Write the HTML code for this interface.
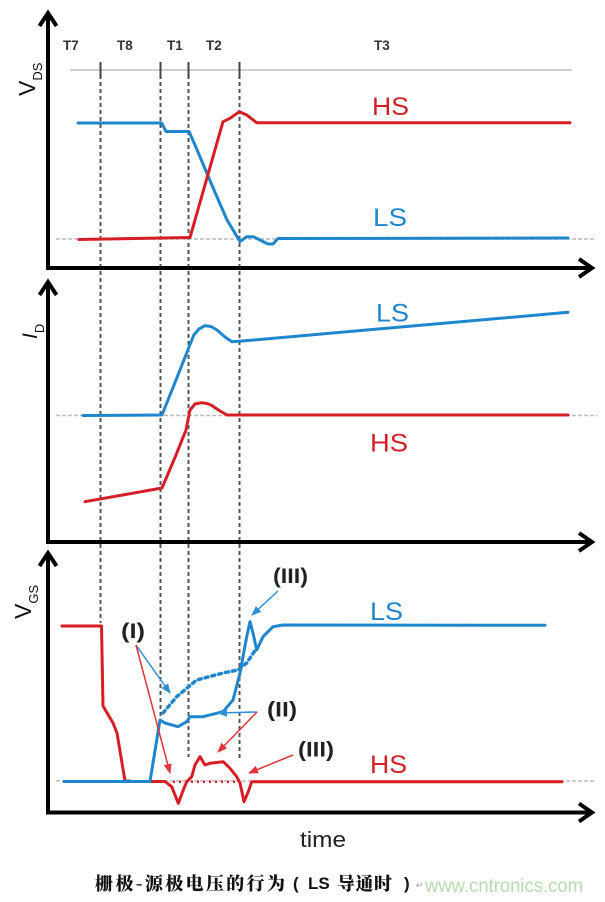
<!DOCTYPE html>
<html><head><meta charset="utf-8"><style>
html,body{margin:0;padding:0;background:#fff;}
svg{display:block;}
</style></head><body>
<svg width="605" height="902" viewBox="0 0 605 902" xmlns="http://www.w3.org/2000/svg">
<defs>
<marker id="ab" markerWidth="10" markerHeight="8" refX="9" refY="4" orient="auto" markerUnits="userSpaceOnUse"><path d="M0,0 L10,4 L0,8 Z" fill="#2a8fd4"/></marker>
<marker id="ar" markerWidth="10" markerHeight="8" refX="9" refY="4" orient="auto" markerUnits="userSpaceOnUse"><path d="M0,0 L10,4 L0,8 Z" fill="#e0353a"/></marker>
</defs>
<rect width="605" height="902" fill="#fff"/>

<!-- top grey line & ticks -->
<line x1="70" y1="70" x2="572" y2="70" stroke="#cfcfcf" stroke-width="2"/>
<g stroke="#444" stroke-width="2">
<line x1="100.5" y1="62" x2="100.5" y2="79"/>
<line x1="160.5" y1="62" x2="160.5" y2="79"/>
<line x1="188.5" y1="62" x2="188.5" y2="79"/>
<line x1="239.5" y1="62" x2="239.5" y2="79"/>
</g>
<g font-family="Liberation Sans, sans-serif" font-size="13.5" font-weight="bold" fill="#333">
<text x="63" y="50">T7</text>
<text x="117" y="50">T8</text>
<text x="167" y="50">T1</text>
<text x="206" y="50">T2</text>
<text x="374" y="50">T3</text>
</g>

<!-- dashed verticals -->
<g stroke="#555" stroke-width="2" stroke-dasharray="4 3">
<line x1="100.5" y1="82" x2="100.5" y2="623"/>
<line x1="160.5" y1="82" x2="160.5" y2="716"/>
<line x1="188.5" y1="82" x2="188.5" y2="757"/>
<line x1="239.5" y1="82" x2="239.5" y2="760"/>
</g>

<!-- grey baselines -->
<g stroke="#bbb" stroke-width="1.6" stroke-dasharray="4 2">
<line x1="56" y1="239" x2="595" y2="239"/>
<line x1="56" y1="415.5" x2="597" y2="415.5"/>
<line x1="56" y1="781" x2="595" y2="781"/>
</g>

<!-- axes -->
<g stroke="#000" stroke-width="4" fill="none" stroke-linejoin="miter">
<line x1="48" y1="14" x2="48" y2="270"/>
<line x1="46" y1="268" x2="592" y2="268"/>
<polyline points="39.5,26 48,13 56.5,26"/>
<polyline points="579,259 592,268 579,277"/>
<line x1="48" y1="283" x2="48" y2="544"/>
<line x1="46" y1="542" x2="592" y2="542"/>
<polyline points="39.5,295 48,282 56.5,295"/>
<polyline points="579,533 592,542 579,551"/>
<line x1="48" y1="554" x2="48" y2="814"/>
<line x1="46" y1="812.5" x2="592" y2="812.5"/>
<polyline points="39.5,566 48,553 56.5,566"/>
<polyline points="579,803.5 592,812.5 579,821.5"/>
</g>

<!-- axis labels -->
<g font-family="Liberation Sans, sans-serif" fill="#111">
<text transform="translate(35,96) rotate(-90)" font-size="23">V<tspan font-size="13" dy="7">DS</tspan></text>
<text transform="translate(37,339) rotate(-90)" font-size="21" font-style="italic">I<tspan font-size="13" dy="7" font-style="normal">D</tspan></text>
<text transform="translate(31,619) rotate(-90)" font-size="23">V<tspan font-size="13" dy="7">GS</tspan></text>
</g>

<!-- VDS curves -->
<g fill="none" stroke-width="3" stroke-linejoin="round" stroke-linecap="round">
<polyline stroke="#1e86cc" points="78,123 161.7,123 166,131.5 189,131.5 195,145 211,183 227,220 240,241.5 246.7,236.7 253.3,236.7 268,244 273,244 278,238.5 568,238"/>
<polyline stroke="#d61e25" points="79,239.5 190,237.5 223,121.7 230,118.3 239.3,111.7 246.7,115 256.7,122.7 570,122.7"/>

<!-- ID curves -->
<polyline stroke="#1e86cc" points="83,415.5 162,415 178,375 193.8,335 199,329 205,325.7 211,326.5 217,330 225,337 232,341.7 242,341 568,312.3"/>
<polyline stroke="#d61e25" points="85,501.7 162,488 176,455 186,430 190,410 195,404 201.5,402.7 207,403.5 211,405 220,411 227,415 568,415"/>

<!-- VGS curves -->
<polyline stroke="#d61e25" points="62,626 101.5,626 103,706 113,723 117,733 125,781 130,781"/>
<polyline stroke="#d61e25" points="150,781.5 165,781.5 171.7,786.7 178.3,803.3 183.3,790 186.7,781.7 191.7,776.7 195,765 200,756.7 205,765 210,763.3 223.3,761.7 230,768.3 236.7,776.7 240,783 244,801.7 248.3,791.7 251.7,781.7 562,781.7"/>
<polyline stroke="#1e86cc" points="64,781.5 150,781.5 160,720 165,723 178,726.7 186.7,721.7 190,716.7 203,716.7 223,711.7 233,700 240,673 246.7,636.7 250,621.7 253,633 256.7,650 263,636.7 273,626.7 283,625 545,625.3"/>
</g>
<polyline fill="none" stroke="#d61e25" stroke-width="2.5" stroke-dasharray="2 4" points="173,781.7 240,781.7"/>
<polyline fill="none" stroke="#1e86cc" stroke-width="3.5" stroke-dasharray="3 4" stroke-linecap="round" points="163,713 176.7,696.7 196.7,680 223,673 238,670 246.7,663 256.7,648"/>

<!-- series labels -->
<g font-family="Liberation Sans, sans-serif" font-size="25">
<text x="372" y="115" fill="#d61e25" textLength="37" lengthAdjust="spacingAndGlyphs">HS</text>
<text x="373" y="226" fill="#1e86cc" textLength="34" lengthAdjust="spacingAndGlyphs">LS</text>
<text x="376" y="321.5" fill="#1e86cc" textLength="33" lengthAdjust="spacingAndGlyphs">LS</text>
<text x="370" y="451.5" fill="#d61e25" textLength="38" lengthAdjust="spacingAndGlyphs">HS</text>
<text x="370" y="620" fill="#1e86cc" textLength="33" lengthAdjust="spacingAndGlyphs">LS</text>
<text x="370" y="773" fill="#d61e25" textLength="37" lengthAdjust="spacingAndGlyphs">HS</text>
</g>

<!-- annotations -->
<g font-family="Liberation Sans, sans-serif" font-size="21" font-weight="bold" fill="#222">
<text x="121" y="638" textLength="24" lengthAdjust="spacingAndGlyphs">(I)</text>
<text x="267" y="716.5" textLength="30" lengthAdjust="spacingAndGlyphs">(II)</text>
<text x="273" y="583" textLength="35" lengthAdjust="spacingAndGlyphs">(III)</text>
<text x="298" y="756.5" textLength="36" lengthAdjust="spacingAndGlyphs">(III)</text>
</g>
<g stroke-width="1.5" fill="none">
<line x1="136" y1="645" x2="170" y2="693" stroke="#2a8fd4" marker-end="url(#ab)"/>
<line x1="136" y1="645" x2="170" y2="773" stroke="#e0353a" marker-end="url(#ar)"/>
<line x1="257" y1="712" x2="218" y2="713" stroke="#2a8fd4" marker-end="url(#ab)"/>
<line x1="257" y1="712" x2="218" y2="752" stroke="#e0353a" marker-end="url(#ar)"/>
<line x1="278" y1="591" x2="252" y2="615" stroke="#2a8fd4" marker-end="url(#ab)"/>
<line x1="293" y1="755" x2="249" y2="773" stroke="#e0353a" marker-end="url(#ar)"/>
</g>

<!-- time -->
<text x="300" y="847" font-family="Liberation Sans, sans-serif" font-size="22" fill="#222" textLength="46" lengthAdjust="spacingAndGlyphs">time</text>

<!-- caption -->
<g font-weight="900" fill="#111">
<text x="95" y="890" font-family="'Noto Serif CJK SC', serif" font-size="18" textLength="190">栅极-源极电压的行为</text>
<text x="293" y="889" font-family="Liberation Sans, sans-serif" font-weight="bold" font-size="17">(</text>
<text x="308" y="889" font-family="Liberation Sans, sans-serif" font-weight="bold" font-size="17">LS</text>
<text x="337" y="890" font-family="'Noto Serif CJK SC', serif" font-size="18" textLength="55">导通时</text>
<text x="404" y="889" font-family="Liberation Sans, sans-serif" font-weight="bold" font-size="17">)</text>
</g>
<text x="416" y="888" font-family="Liberation Sans, 'Noto Sans CJK SC', sans-serif" font-size="9" fill="#999">↵</text>
<text x="425" y="892" font-family="Liberation Sans, sans-serif" font-size="19" fill="#b5dcae" textLength="158" lengthAdjust="spacingAndGlyphs">www.cntronics.com</text>
</svg>
</body></html>
